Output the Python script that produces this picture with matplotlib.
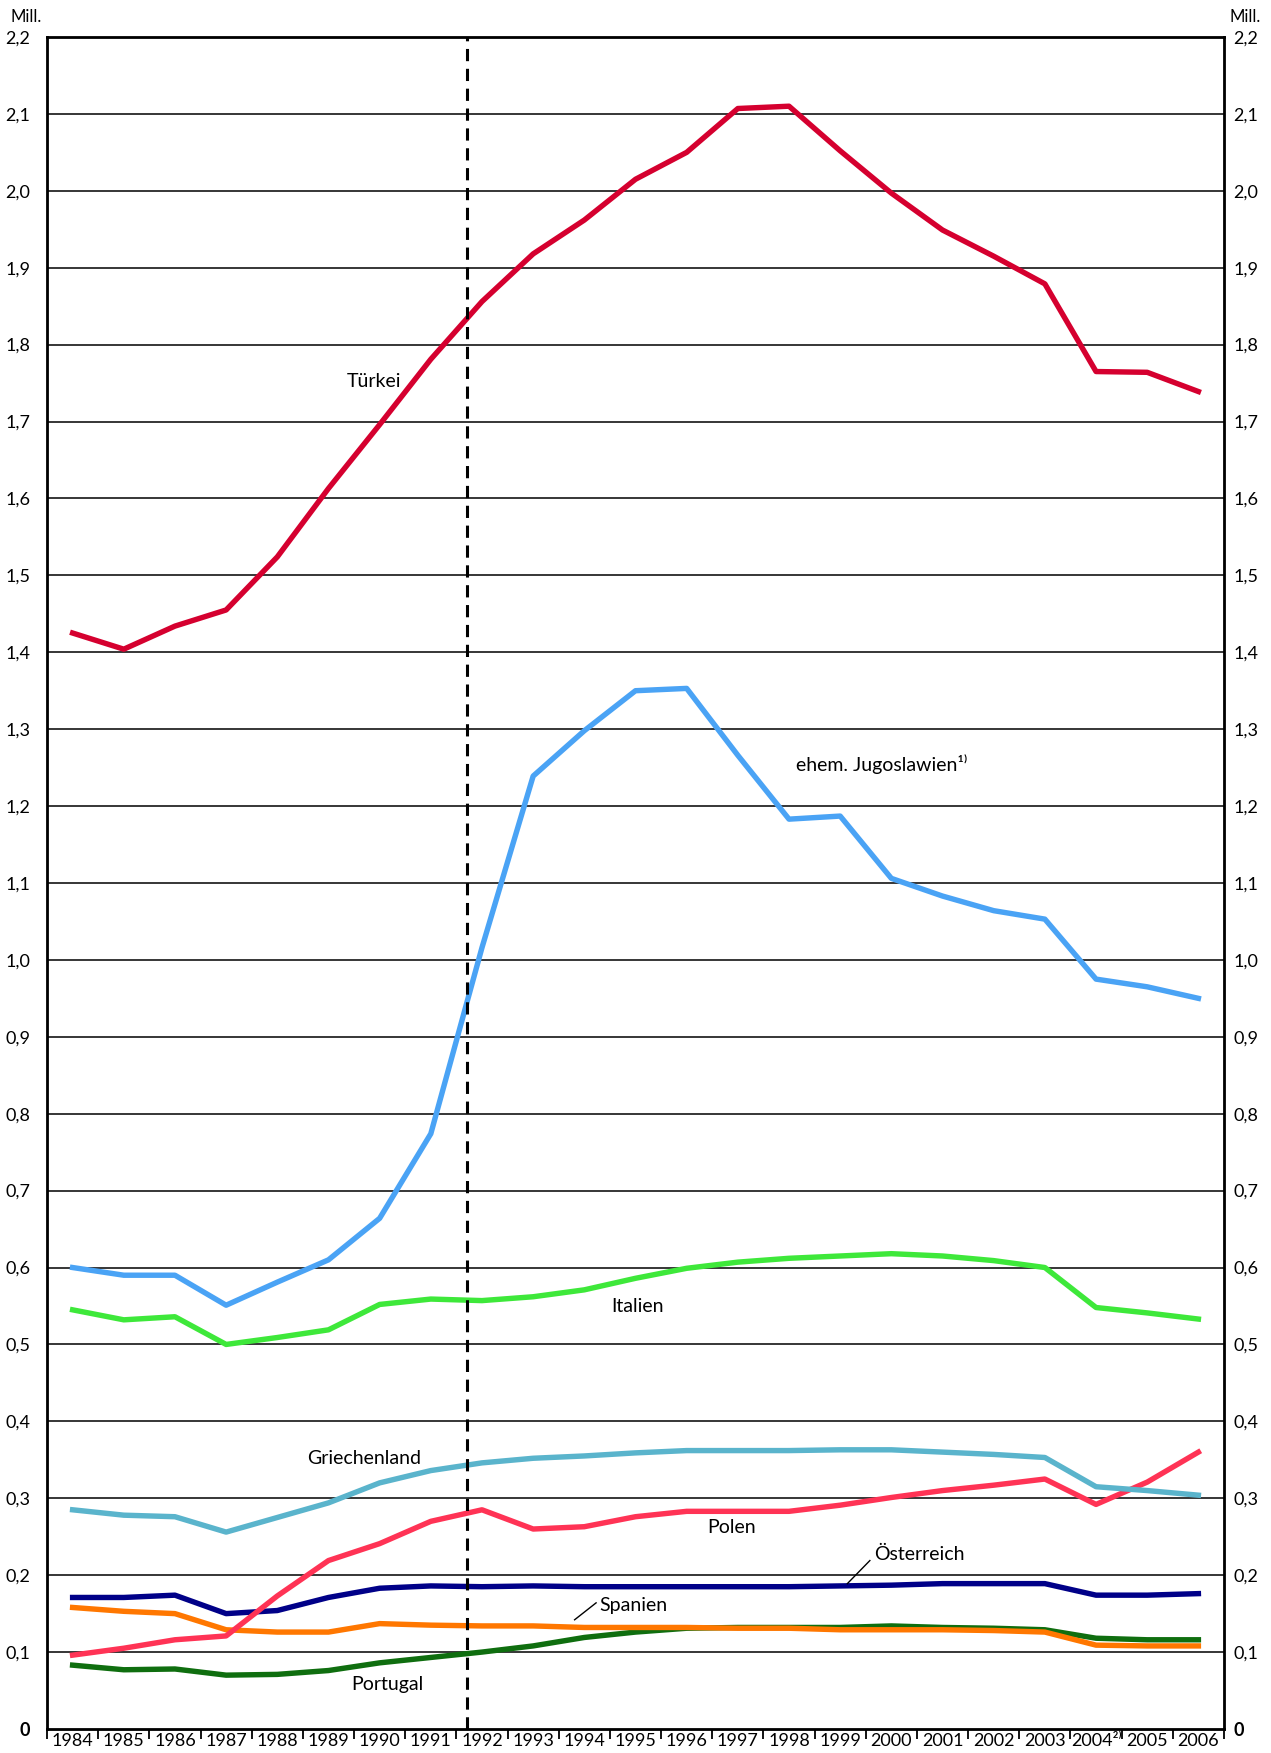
import matplotlib
matplotlib.use("Agg")
import matplotlib.pyplot as plt

plt.rcParams['font.family'] = ['Lato', 'DejaVu Sans']

years = list(range(1984, 2007))
year_labels = [str(y) for y in years]
year_labels[years.index(2004)] = "2004²⁾"

tuerkei = [1.425, 1.404, 1.434, 1.455, 1.524, 1.613, 1.696, 1.781, 1.856, 1.918, 1.962, 2.015,
           2.050, 2.107, 2.110, 2.052, 1.997, 1.949, 1.915, 1.879, 1.765, 1.764, 1.739]
jugoslawien = [0.600, 0.590, 0.590, 0.551, 0.581, 0.610, 0.664, 0.774, 1.016, 1.239, 1.298, 1.350,
               1.353, 1.266, 1.183, 1.187, 1.106, 1.083, 1.064, 1.053, 0.975, 0.965, 0.950]
italien = [0.545, 0.532, 0.536, 0.500, 0.509, 0.519, 0.552, 0.559, 0.557, 0.562, 0.571, 0.586,
           0.599, 0.607, 0.612, 0.615, 0.618, 0.615, 0.609, 0.600, 0.548, 0.541, 0.533]
griechenland = [0.285, 0.278, 0.276, 0.256, 0.275, 0.294, 0.320, 0.336, 0.346, 0.352, 0.355, 0.359,
                0.362, 0.362, 0.362, 0.363, 0.363, 0.360, 0.357, 0.353, 0.315, 0.310, 0.304]
polen = [0.096, 0.105, 0.116, 0.121, 0.173, 0.219, 0.241, 0.270, 0.285, 0.260, 0.263, 0.276,
         0.283, 0.283, 0.283, 0.291, 0.301, 0.310, 0.317, 0.325, 0.292, 0.321, 0.360]
oesterreich = [0.171, 0.171, 0.174, 0.150, 0.154, 0.171, 0.183, 0.186, 0.185, 0.186, 0.185, 0.185,
               0.185, 0.185, 0.185, 0.186, 0.187, 0.189, 0.189, 0.189, 0.174, 0.174, 0.176]
spanien = [0.158, 0.153, 0.150, 0.129, 0.126, 0.126, 0.137, 0.135, 0.134, 0.134, 0.132, 0.132,
           0.132, 0.131, 0.131, 0.129, 0.129, 0.129, 0.128, 0.126, 0.109, 0.108, 0.108]
portugal = [0.083, 0.077, 0.078, 0.070, 0.071, 0.076, 0.086, 0.093, 0.100, 0.108, 0.119, 0.126,
            0.131, 0.132, 0.132, 0.132, 0.134, 0.132, 0.131, 0.129, 0.118, 0.116, 0.116]

yticks = [i / 10 for i in range(0, 23)]
ylabels = ["0"] + [("%.1f" % v).replace(".", ",") for v in yticks[1:]]

fig = plt.figure(figsize=(12.71, 17.53), dpi=100)
ax = fig.add_axes([0.037, 0.0137, 0.926, 0.9652])

for y in yticks[1:-1]:
    ax.axhline(y, color="black", lw=1.1, zorder=1)

lw = 3.9
ax.plot(years, portugal, color="#0f6e0f", lw=lw, zorder=3)
ax.plot(years, spanien, color="#ff7700", lw=lw, zorder=3)
ax.plot(years, oesterreich, color="#000088", lw=lw, zorder=3)
ax.plot(years, polen, color="#ff3355", lw=lw, zorder=3)
ax.plot(years, griechenland, color="#5ab4cc", lw=lw, zorder=3)
ax.plot(years, italien, color="#3ee83a", lw=lw, zorder=3)
ax.plot(years, jugoslawien, color="#4aa3f5", lw=lw, zorder=3)
ax.plot(years, tuerkei, color="#d5002f", lw=lw, zorder=3)

ax.axvline(1991.7, color="black", lw=2.2, ls=(0, (4, 2.5)), zorder=4)

ax.set_xlim(1983.5, 2006.5)
ax.set_ylim(0, 2.2)
for s in ax.spines.values():
    s.set_linewidth(2.0)

# year labels centred, tick marks on the year boundaries
ax.set_xticks([y + 0.5 for y in years[:-1]] + [1983.5, 2006.5])
ax.set_xticklabels([])
ax.set_xticks(years, minor=True)
ax.set_xticklabels(year_labels, minor=True, fontsize=13)
ax.tick_params(axis="x", which="major", length=7, width=1.3, direction="out")
ax.tick_params(axis="x", which="minor", length=0, pad=3)

ax.set_yticks(yticks, ylabels, fontsize=13)
ax.tick_params(axis="y", length=0, pad=12)
ax2 = ax.twinx()
ax2.set_ylim(0, 2.2)
ax2.set_yticks(yticks, ylabels, fontsize=13)
ax2.tick_params(axis="y", length=0, pad=7)
for t in ax.get_yticklabels()[:1] + ax2.get_yticklabels()[:1]:
    t.set_fontweight("bold")

fig.text(0.008, 0.9905, "Mill.", fontsize=12, ha="left", va="center")
fig.text(0.992, 0.9905, "Mill.", fontsize=12, ha="right", va="center")

fs = 14
ax.text(1989.88, 1.752, "Türkei", fontsize=fs, ha="center", va="center")
ax.text(1998.14, 1.254, "ehem. Jugoslawien¹⁾", fontsize=fs, ha="left", va="center")
ax.text(1995.04, 0.549, "Italien", fontsize=fs, ha="center", va="center")
ax.text(1989.7, 0.352, "Griechenland", fontsize=fs, ha="center", va="center")
ax.text(1996.87, 0.262, "Polen", fontsize=fs, ha="center", va="center")
ax.text(1999.67, 0.227, "Österreich", fontsize=fs, ha="left", va="center")
ax.plot([1999.14, 1999.58], [0.189, 0.219], color="black", lw=1.0, zorder=5)
ax.text(1994.29, 0.161, "Spanien", fontsize=fs, ha="left", va="center")
ax.plot([1993.81, 1994.23], [0.142, 0.164], color="black", lw=1.0, zorder=5)
ax.text(1990.16, 0.058, "Portugal", fontsize=fs, ha="center", va="center")

fig.savefig("out.png", dpi=100)
